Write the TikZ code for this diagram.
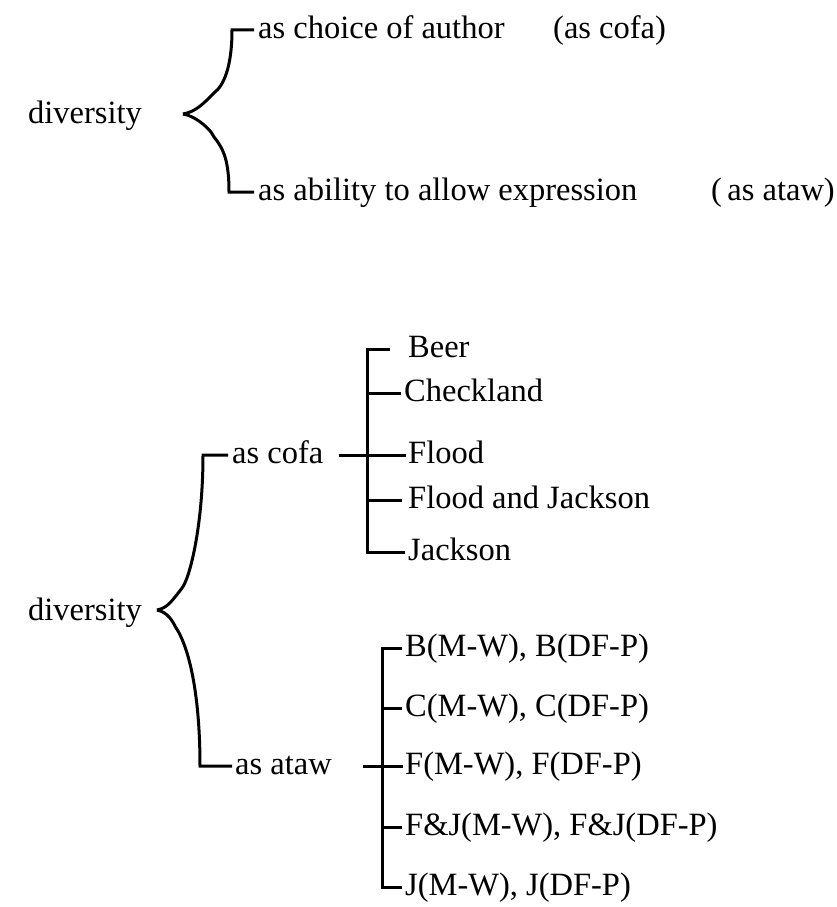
\documentclass[tikz,border=0pt]{standalone}
\usepackage{fontspec}
\setmainfont{Liberation Serif}
\begin{document}
\begin{tikzpicture}[x=1pt,y=-1pt,
  lbl/.style={anchor=west,inner sep=0pt,text height=22pt,text depth=6pt,
              font=\fontsize{32.5}{38}\selectfont},
  wire/.style={line width=3pt,line cap=butt,line join=miter}]
\useasboundingbox[fill=white] (0,0) rectangle (836,907);

% ---- upper scheme: the two senses of diversity
\node[lbl] (dA)  at (28,115)  {diversity};
\node[lbl] (cA)  at (258,30)  {as choice of author};
\node[lbl] (cAn) at (553,30)  {(as cofa)};
\node[lbl] (cB)  at (258,192) {as ability to allow expression};
\node[lbl] (cBn) at (711,192) {(\,as ataw)};
\coordinate (tipA) at (183,114);

\draw[wire] ([xshift=-4pt]cA.west) -- (232,30)
  .. controls (232,68) and (223,86) .. (215,92) -- (211,96)
  .. controls (203,104) and (195,112) .. (tipA);
\draw[wire] (tipA) .. controls (195,116) and (206,126) .. (211,132) -- (214,137)
  .. controls (224,149) and (229,162) .. (229,192) -- ([xshift=-4pt]cB.west);

% ---- lower scheme: authors and papers under each sense
\node[lbl] (dB) at (28,612)  {diversity};
\coordinate (tipB) at (157,610);
\node[lbl] (aA) at (232,455) {as cofa};
\node[lbl] (aB) at (235,766) {as ataw};

\draw[wire] ([xshift=-4pt]aA.west) -- (203,455)
  .. controls (203,525) and (190,578) .. (182,588) -- (179,592)
  .. controls (171,602) and (167,608) .. (tipB);
\draw[wire] (tipB) .. controls (167,612) and (172,620) .. (175,626) -- (178,631)
  .. controls (192,656) and (200,705) .. (200,766) -- ([xshift=-3pt]aB.west);

% authors
\coordinate (spA) at (367,0);
\node[lbl] (f1) at (408,349) {Beer};
\node[lbl] (f2) at (404,393) {Checkland};
\node[lbl] (f3) at (408,455) {Flood};
\node[lbl] (f4) at (408,500) {Flood and Jackson};
\node[lbl] (f5) at (408,552) {Jackson};

\draw[wire] ([xshift=-18pt]f1.west) -- (f1.west -| spA) -- (f5.west -| spA) -- ([xshift=-3pt]f5.west);
\draw[wire] (f2.west -| spA) -- ([xshift=-3pt]f2.west);
\draw[wire] (f4.west -| spA) -- ([xshift=-6pt]f4.west);
\draw[wire] ([xshift=15pt]aA.east) -- ([xshift=-2pt]f3.west);

% papers
\coordinate (spB) at (382,0);
\node[lbl] (g1) at (405,648) {B(M-W), B(DF-P)};
\node[lbl] (g2) at (405,708) {C(M-W), C(DF-P)};
\node[lbl] (g3) at (405,766) {F(M-W), F(DF-P)};
\node[lbl] (g4) at (405,827) {F\&J(M-W), F\&J(DF-P)};
\node[lbl] (g5) at (405,887) {J(M-W), J(DF-P)};

\draw[wire] ([xshift=-3pt]g1.west) -- (g1.west -| spB) -- (g5.west -| spB) -- ([xshift=-3pt]g5.west);
\draw[wire] (g2.west -| spB) -- ([xshift=-3pt]g2.west);
\draw[wire] (g4.west -| spB) -- ([xshift=-3pt]g4.west);
\draw[wire] ([xshift=31pt]aB.east) -- ([xshift=-2pt]g3.west);
\end{tikzpicture}
\end{document}
